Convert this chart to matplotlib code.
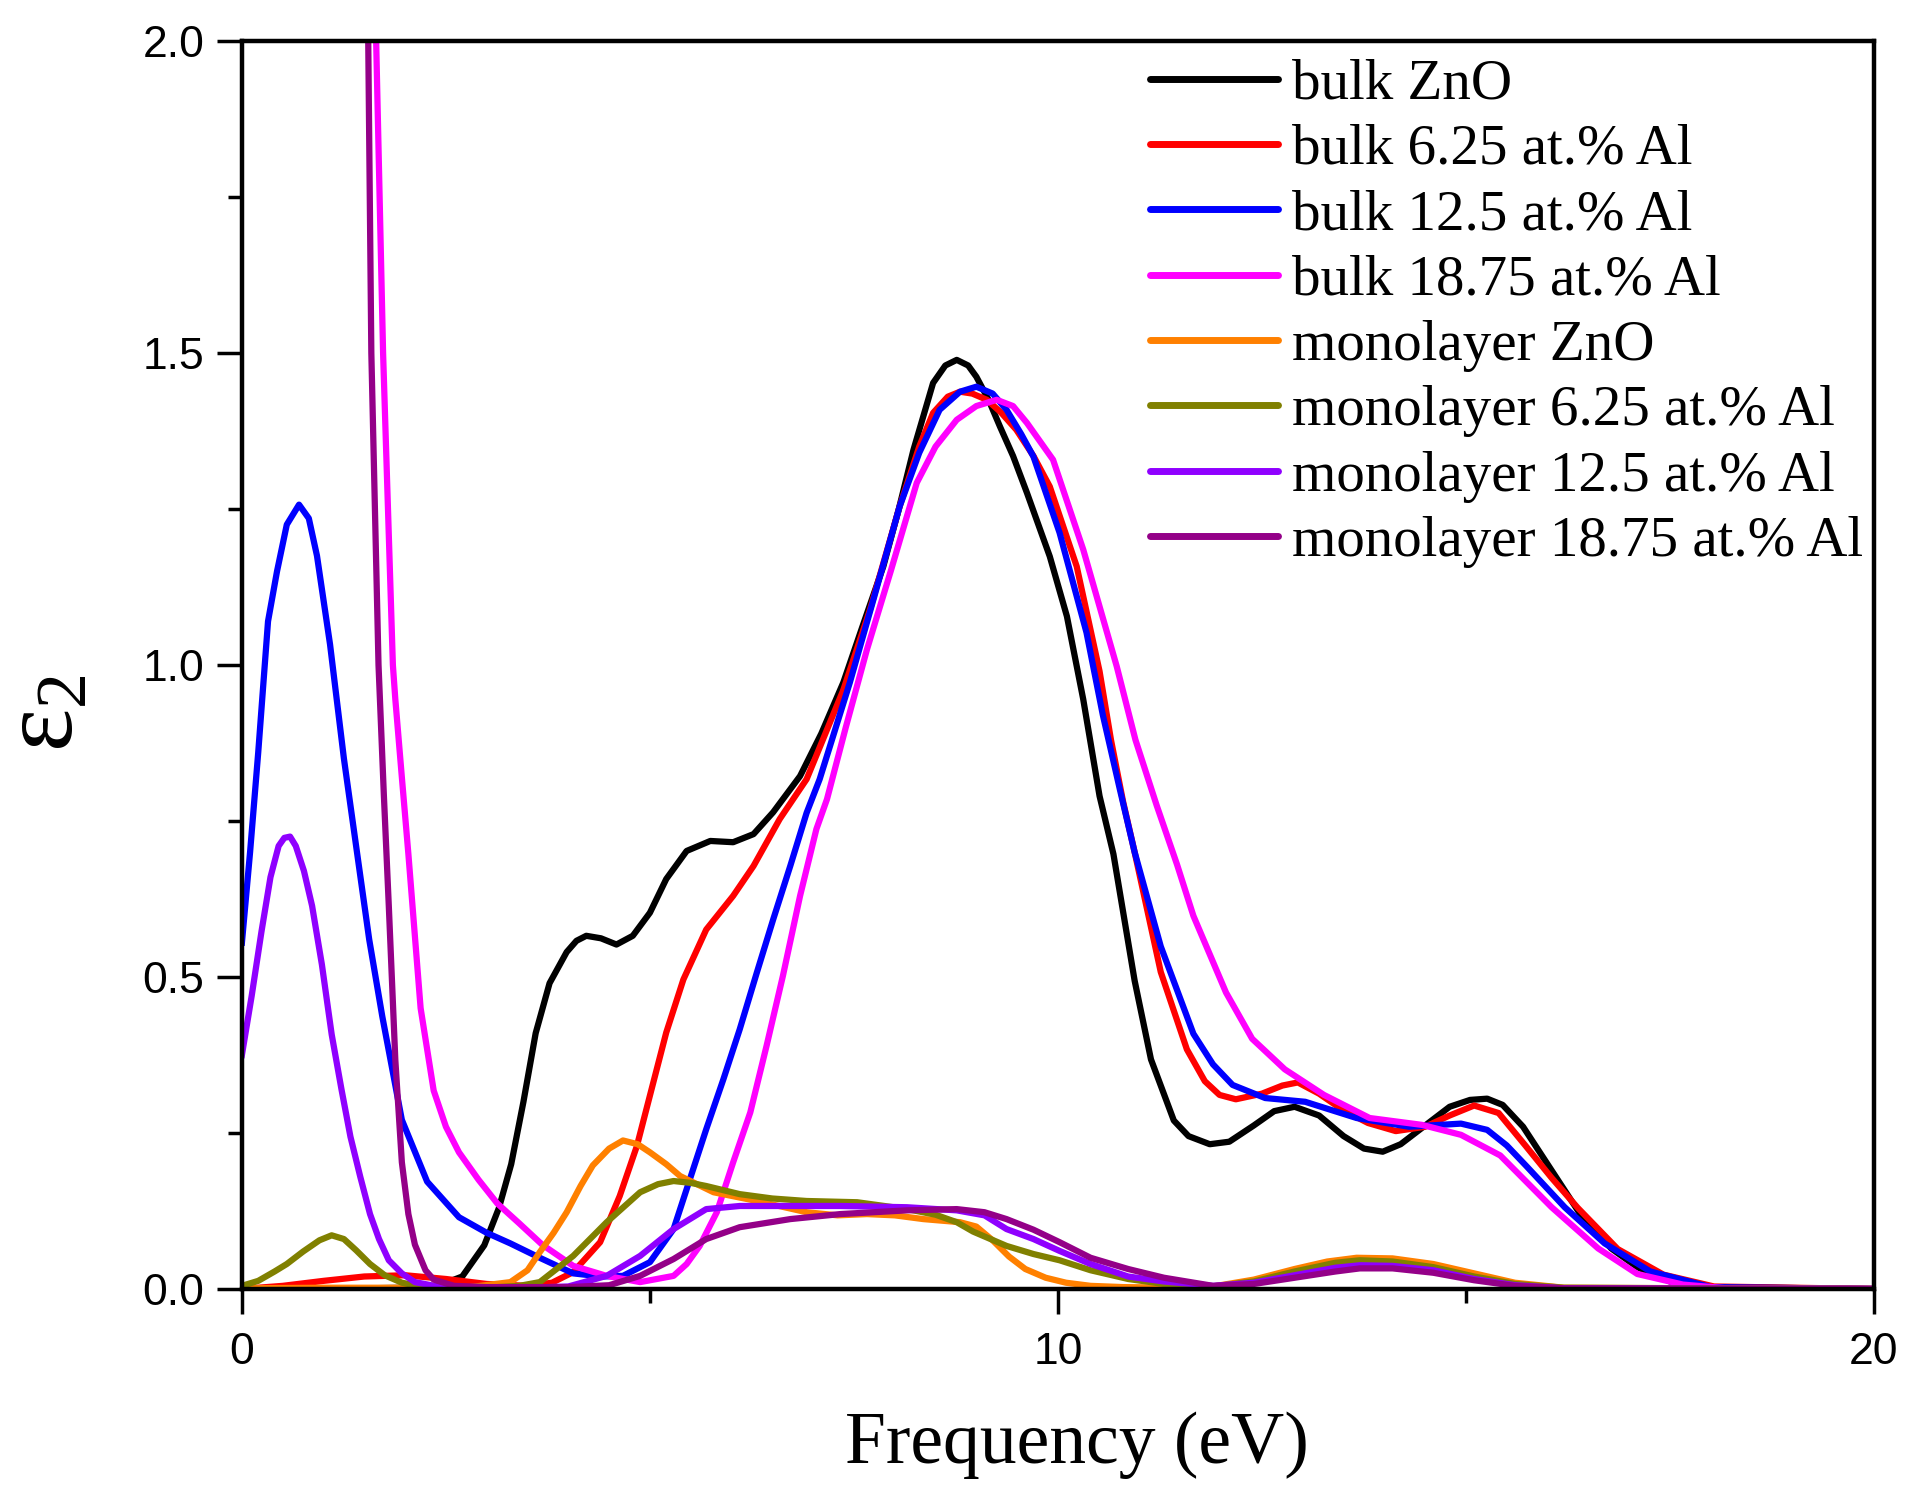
import matplotlib
matplotlib.use("Agg")
import matplotlib.pyplot as plt
from matplotlib.ticker import MultipleLocator, FormatStrFormatter

# values (energy in eV, eps2)
e_bulk_zno = [0, 1.0, 2.0, 2.4, 2.7, 2.97, 3.15, 3.3, 3.45, 3.6, 3.77, 3.98, 4.1, 4.22, 4.4,
              4.59, 4.79, 5.0, 5.2, 5.45, 5.74, 6.02, 6.27, 6.51, 6.84, 7.1, 7.37, 7.6, 7.86,
              8.05, 8.23, 8.47, 8.62, 8.76, 8.9, 9.0, 9.15, 9.29, 9.45, 9.62, 9.9, 10.11, 10.31,
              10.51, 10.68, 10.94, 11.14, 11.42, 11.6, 11.86, 12.1, 12.4, 12.65, 12.9, 13.2,
              13.5, 13.75, 13.98, 14.2, 14.5, 14.8, 15.05, 15.26, 15.45, 15.7, 16.0, 16.4,
              16.78, 17.1, 17.5, 18.0, 20.0]
eps_bulk_zno = [0, 0, 0.002, 0.005, 0.02, 0.07, 0.13, 0.2, 0.3, 0.41, 0.49, 0.54, 0.558, 0.566,
                0.562, 0.552, 0.566, 0.603, 0.657, 0.702, 0.718, 0.716, 0.729, 0.764, 0.822,
                0.89, 0.972, 1.06, 1.158, 1.25, 1.345, 1.452, 1.48, 1.489, 1.48, 1.462, 1.425,
                1.382, 1.335, 1.276, 1.174, 1.078, 0.945, 0.79, 0.697, 0.494, 0.368, 0.27,
                0.245, 0.232, 0.236, 0.262, 0.285, 0.292, 0.278, 0.245, 0.225, 0.22, 0.232,
                0.262, 0.292, 0.303, 0.305, 0.295, 0.26, 0.2, 0.12, 0.065, 0.035, 0.012, 0.003, 0]

e_bulk_625 = [0, 0.5, 1.0, 1.5, 2.0, 2.5, 3.0, 3.5, 3.8, 4.06, 4.39, 4.63, 4.84, 5.0, 5.2, 5.41,
              5.69, 6.02, 6.27, 6.59, 6.92, 7.37, 7.7, 8.06, 8.3, 8.47, 8.65, 8.8, 8.95, 9.13,
              9.3, 9.49, 9.7, 9.9, 10.23, 10.51, 10.65, 10.8, 10.94, 11.26, 11.58, 11.8, 11.98,
              12.18, 12.5, 12.75, 12.94, 13.2, 13.5, 13.8, 14.14, 14.5, 14.8, 15.1, 15.4, 15.74,
              16.05, 16.37, 16.86, 17.42, 18.04, 20.0]
eps_bulk_625 = [0, 0.005, 0.013, 0.02, 0.022, 0.016, 0.008, 0.005, 0.01, 0.027, 0.075, 0.149,
                0.229, 0.31, 0.411, 0.496, 0.576, 0.63, 0.678, 0.753, 0.817, 0.96, 1.09, 1.254,
                1.35, 1.404, 1.43, 1.438, 1.435, 1.425, 1.405, 1.377, 1.335, 1.286, 1.158, 0.99,
                0.88, 0.78, 0.70, 0.508, 0.384, 0.333, 0.311, 0.304, 0.313, 0.326, 0.331, 0.313,
                0.286, 0.266, 0.253, 0.26, 0.278, 0.294, 0.282, 0.228, 0.178, 0.13, 0.064, 0.023,
                0.004, 0]

e_bulk_125 = [0, 0.1, 0.2, 0.32, 0.43, 0.55, 0.70, 0.82, 0.92, 1.08, 1.25, 1.41, 1.56, 1.72,
              1.96, 2.27, 2.66, 3.0, 3.29, 3.65, 4.06, 4.4, 4.67, 5.0, 5.29, 5.49, 5.69, 5.9,
              6.1, 6.31, 6.51, 6.72, 6.92, 7.08, 7.45, 7.75, 8.06, 8.3, 8.55, 8.8, 9.0, 9.2,
              9.37, 9.55, 9.7, 10.02, 10.35, 10.55, 10.76, 10.94, 11.26, 11.66, 11.9, 12.14,
              12.54, 13.03, 13.66, 14.3, 14.94, 15.26, 15.5, 15.74, 16.21, 16.7, 17.26, 18.0, 20.0]
eps_bulk_125 = [0.555, 0.70, 0.86, 1.07, 1.15, 1.225, 1.257, 1.235, 1.175, 1.033, 0.85, 0.70,
                0.56, 0.437, 0.271, 0.172, 0.115, 0.09, 0.073, 0.05, 0.025, 0.02, 0.021, 0.043,
                0.096, 0.176, 0.256, 0.336, 0.416, 0.507, 0.592, 0.678, 0.763, 0.817, 0.972,
                1.11, 1.254, 1.34, 1.409, 1.438, 1.446, 1.435, 1.409, 1.37, 1.334, 1.212, 1.052,
                0.92, 0.80, 0.70, 0.549, 0.409, 0.36, 0.327, 0.306, 0.30, 0.274, 0.26, 0.265,
                0.255, 0.23, 0.197, 0.131, 0.073, 0.028, 0.003, 0]

e_bulk_1875 = [1.55, 1.645, 1.73, 1.79, 1.85, 1.88, 1.96, 2.04, 2.19, 2.35, 2.5, 2.66, 2.9,
               3.13, 3.4, 3.68, 4.06, 4.47, 4.88, 5.29, 5.45, 5.61, 5.82, 6.02, 6.23, 6.43,
               6.63, 6.84, 7.04, 7.17, 7.4, 7.66, 7.95, 8.27, 8.5, 8.76, 9.0, 9.25, 9.45, 9.62,
               9.94, 10.31, 10.72, 10.95, 11.21, 11.46, 11.66, 12.06, 12.38, 12.78, 13.26, 13.82,
               14.46, 14.94, 15.42, 16.05, 16.62, 17.1, 17.66, 18.2, 20.0]
eps_bulk_1875 = [2.45, 2.0, 1.5, 1.25, 1.0, 0.945, 0.82, 0.697, 0.45, 0.318, 0.26, 0.219, 0.175,
                 0.137, 0.105, 0.071, 0.037, 0.021, 0.011, 0.021, 0.04, 0.069, 0.123, 0.203,
                 0.283, 0.39, 0.502, 0.63, 0.737, 0.785, 0.90, 1.025, 1.15, 1.292, 1.35, 1.393,
                 1.415, 1.425, 1.415, 1.388, 1.329, 1.185, 0.998, 0.88, 0.775, 0.68, 0.598,
                 0.475, 0.401, 0.352, 0.311, 0.274, 0.263, 0.247, 0.214, 0.131, 0.065, 0.024,
                 0.007, 0.001, 0]

e_mono_zno = [0, 1.0, 2.0, 2.8, 3.29, 3.5, 3.65, 3.82, 3.98, 4.15, 4.3, 4.5, 4.67, 4.85, 5.0,
              5.2, 5.37, 5.78, 6.31, 6.92, 7.3, 7.66, 8.0, 8.35, 8.8, 9.0, 9.2, 9.4, 9.6, 9.85,
              10.1, 10.4, 10.8, 11.5, 11.9, 12.4, 12.9, 13.3, 13.66, 14.1, 14.6, 15.1, 15.6,
              16.2, 20.0]
eps_mono_zno = [0.001, 0.002, 0.002, 0.003, 0.011, 0.03, 0.059, 0.09, 0.123, 0.165, 0.198,
                0.225, 0.238, 0.232, 0.219, 0.2, 0.181, 0.155, 0.141, 0.123, 0.118, 0.12, 0.118,
                0.112, 0.107, 0.1, 0.078, 0.052, 0.032, 0.018, 0.01, 0.005, 0.003, 0.002, 0.004,
                0.015, 0.032, 0.044, 0.05, 0.049, 0.04, 0.025, 0.01, 0.002, 0]

e_mono_625 = [0, 0.2, 0.4, 0.55, 0.75, 0.95, 1.1, 1.25, 1.4, 1.57, 1.75, 1.96, 2.2, 2.6, 3.0,
              3.4, 3.65, 4.06, 4.47, 4.88, 5.1, 5.29, 5.5, 5.69, 6.1, 6.5, 6.92, 7.54, 8.15,
              8.5, 8.76, 8.96, 9.37, 9.7, 10.02, 10.4, 10.86, 11.3, 11.9, 12.4, 12.9, 13.4, 13.7,
              14.1, 14.6, 15.1, 15.6, 16.2, 20.0]
eps_mono_625 = [0.005, 0.013, 0.028, 0.04, 0.06, 0.078, 0.086, 0.08, 0.062, 0.04, 0.022, 0.01,
                0.004, 0.002, 0.002, 0.005, 0.011, 0.053, 0.107, 0.155, 0.168, 0.173, 0.17,
                0.165, 0.152, 0.145, 0.141, 0.139, 0.128, 0.119, 0.107, 0.092, 0.069, 0.056,
                0.046, 0.03, 0.016, 0.008, 0.004, 0.012, 0.028, 0.042, 0.046, 0.044, 0.035,
                0.02, 0.008, 0.002, 0]

e_mono_125 = [0, 0.12, 0.24, 0.35, 0.45, 0.52, 0.59, 0.66, 0.76, 0.86, 0.98, 1.1, 1.22, 1.33,
              1.45, 1.57, 1.68, 1.8, 1.96, 2.12, 2.4, 3.0, 3.5, 4.0, 4.47, 4.88, 5.29, 5.69,
              6.1, 6.7, 7.33, 8.15, 8.76, 9.1, 9.37, 9.7, 10.02, 10.4, 10.86, 11.3, 11.9, 12.4,
              12.9, 13.4, 13.7, 14.1, 14.6, 15.1, 15.6, 16.2, 20.0]
eps_mono_125 = [0.375, 0.47, 0.573, 0.66, 0.71, 0.723, 0.725, 0.71, 0.67, 0.614, 0.52, 0.408,
                0.32, 0.244, 0.18, 0.12, 0.08, 0.046, 0.025, 0.011, 0.004, 0.002, 0.002, 0.004,
                0.021, 0.053, 0.096, 0.128, 0.133, 0.133, 0.133, 0.131, 0.126, 0.118, 0.096,
                0.08, 0.061, 0.04, 0.02, 0.012, 0.005, 0.01, 0.022, 0.034, 0.038, 0.037, 0.03,
                0.016, 0.006, 0.001, 0]

e_mono_1875 = [1.50, 1.548, 1.586, 1.63, 1.674, 1.74, 1.80, 1.88, 1.96, 2.04, 2.12, 2.25, 2.35,
               2.6, 3.0, 4.0, 4.5, 4.88, 5.29, 5.69, 6.1, 6.72, 7.33, 8.15, 8.76, 9.1, 9.37, 9.7,
               10.02, 10.4, 10.86, 11.3, 11.9, 12.4, 12.9, 13.4, 13.7, 14.1, 14.6, 15.1, 15.6,
               16.2, 20.0]
eps_mono_1875 = [2.6, 2.0, 1.5, 1.25, 1.0, 0.79, 0.614, 0.367, 0.203, 0.12, 0.071, 0.03, 0.015,
                 0.005, 0.003, 0.003, 0.006, 0.021, 0.048, 0.08, 0.099, 0.112, 0.12, 0.126,
                 0.128, 0.123, 0.112, 0.095, 0.075, 0.05, 0.032, 0.018, 0.005, 0.008, 0.018,
                 0.028, 0.033, 0.033, 0.026, 0.014, 0.005, 0.001, 0]

labels = ["bulk ZnO", "bulk 6.25 at.% Al", "bulk 12.5 at.% Al", "bulk 18.75 at.% Al",
          "monolayer ZnO", "monolayer 6.25 at.% Al", "monolayer 12.5 at.% Al",
          "monolayer 18.75 at.% Al"]
colors = ["#000000", "#FF0000", "#0000FF", "#FF00FF",
          "#FF8000", "#808000", "#8F00FF", "#940088"]
energies = [e_bulk_zno, e_bulk_625, e_bulk_125, e_bulk_1875,
            e_mono_zno, e_mono_625, e_mono_125, e_mono_1875]
spectra = [eps_bulk_zno, eps_bulk_625, eps_bulk_125, eps_bulk_1875,
           eps_mono_zno, eps_mono_625, eps_mono_125, eps_mono_1875]

plt.rcParams["font.family"] = "Liberation Serif"
plt.rcParams["mathtext.fontset"] = "custom"
plt.rcParams["mathtext.rm"] = "Liberation Serif"
plt.rcParams["mathtext.it"] = "Liberation Serif:italic"

fig = plt.figure(figsize=(19.23, 15.03), dpi=100)
ax = fig.add_axes([0.1258, 0.1424, 0.8487, 0.8303])

for e, eps, lab, col in zip(energies, spectra, labels, colors):
    ax.plot(e, eps, color=col, lw=4.5, label=lab, solid_joinstyle="round")

ax.set_xlim(0, 20)
ax.set_ylim(0, 2.0)
ax.xaxis.set_major_locator(MultipleLocator(10))
ax.xaxis.set_minor_locator(MultipleLocator(5))
ax.yaxis.set_major_locator(MultipleLocator(0.5))
ax.yaxis.set_minor_locator(MultipleLocator(0.25))
ax.xaxis.set_major_formatter(FormatStrFormatter("%d"))
ax.yaxis.set_major_formatter(FormatStrFormatter("%.1f"))

ax.tick_params(which="both", direction="out", top=False, right=False, width=2.5)
ax.tick_params(which="major", length=18, labelsize=32)
ax.tick_params(which="minor", length=10)
ax.tick_params(axis="x", pad=13)
ax.tick_params(axis="y", pad=9)
for t in ax.get_xticklabels() + ax.get_yticklabels():
    t.set_fontfamily("Liberation Sans")

for sp in ax.spines.values():
    sp.set_linewidth(3.2)

ax.set_xlabel("Frequency (eV)", fontsize=53)
ax.xaxis.set_label_coords(0.5116, -0.098)
ax.set_ylabel(r"$\mathregular{\varepsilon_2}$", fontsize=74)
ax.yaxis.set_label_coords(-0.090, 0.4615)

leg = ax.legend(loc="upper left", bbox_to_anchor=(0.5564, 0.986), frameon=False,
                borderpad=0, borderaxespad=0, handlelength=2.25, handletextpad=0.25,
                labelspacing=0.235, prop={"family": "Liberation Serif", "size": 41})
for line in leg.get_lines():
    line.set_linewidth(5.0)
    line.set_solid_capstyle("round")

fig.savefig("out.png", dpi=100)
